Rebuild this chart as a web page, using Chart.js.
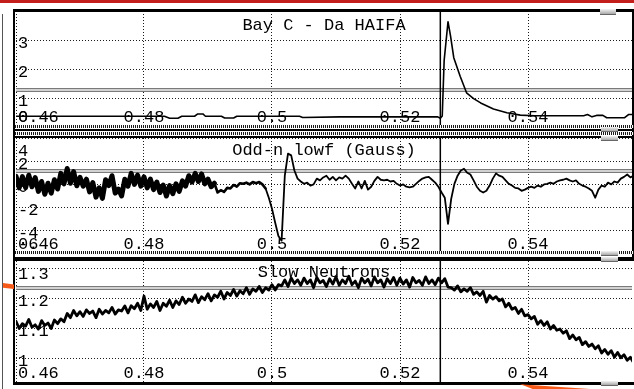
<!DOCTYPE html>
<html>
<head>
<meta charset="utf-8">
<script src="https://cdn.jsdelivr.net/npm/chart.js@4.4.1/dist/chart.umd.min.js"></script>
<style>
  html, body { margin: 0; padding: 0; background: #fff; }
  #scope { position: relative; width: 634px; height: 389px; overflow: hidden; background: #fff; }
  #scope canvas { position: absolute; left: 16px; }
  .d { position: absolute; }
  .blk { background: #000; }
  .hatch { background: repeating-linear-gradient(90deg, #1a1a1a 0 1px, #fff 1px 2px); }
  .tab { background: linear-gradient(#f4f4f4, #a8a8a8); border-bottom: 1px solid #666; box-sizing: border-box; }
  .orange { background: #f75a18; }
</style>
</head>
<body>
<div id="scope">
  <canvas id="haifa" width="616" height="116" style="top:11px"></canvas>
  <canvas id="lowf" width="616" height="116" style="top:138px"></canvas>
  <canvas id="neutron" width="616" height="122" style="top:261px"></canvas>

  <!-- window frame: title strip, panel borders, axis hatching, scroll tabs -->
  <div class="d" style="left:0;top:0;width:634px;height:3px;background:#c41e1a"></div>
  <div class="d" style="left:2px;top:14px;width:1px;height:375px;background:#555"></div>
  <div class="d blk" style="left:13px;top:9px;width:2px;height:376px"></div>
  <div class="d blk" style="left:632px;top:9px;width:2px;height:251px"></div>
  <div class="d blk" style="left:13px;top:9px;width:621px;height:3px"></div>
  <div class="d hatch" style="left:15px;top:125px;width:619px;height:3px"></div>
  <div class="d blk" style="left:13px;top:129px;width:621px;height:2px"></div>
  <div class="d hatch" style="left:15px;top:132px;width:619px;height:3px"></div>
  <div class="d blk" style="left:13px;top:136px;width:621px;height:2px"></div>
  <div class="d hatch" style="left:15px;top:251px;width:619px;height:3px"></div>
  <div class="d blk" style="left:13px;top:257px;width:621px;height:4px"></div>
  <div class="d blk" style="left:13px;top:382px;width:621px;height:3px"></div>
  <div class="d tab" style="left:600px;top:9px;width:16px;height:6px"></div>
  <div class="d tab" style="left:601px;top:127px;width:17px;height:5px"></div>
  <div class="d tab" style="left:601px;top:136px;width:17px;height:5px"></div>
  <div class="d tab" style="left:601px;top:251px;width:17px;height:5px"></div>
  <div class="d tab" style="left:601px;top:257px;width:17px;height:5px"></div>
  <div class="d tab" style="left:601px;top:381px;width:17px;height:5px"></div>
  <div class="d orange" style="left:3px;top:283px;width:11px;height:6px;clip-path:polygon(0 0,100% 25%,100% 100%,0 80%)"></div>
  <div class="d orange" style="left:520px;top:383px;width:70px;height:6px;clip-path:polygon(0 20%,100% 100%,18% 100%)"></div>
</div>

<script>
const sampleStart = 0.46;
const sampleStep = 0.0005;

const xTickValues = [0.46, 0.48, 0.5, 0.52, 0.54];
const xTickLabels = ['0.46', '0.48', '0.5', '0.52', '0.54'];
const cursorTime = 0.5263;

// Panel 1: D-alpha, HAIFA
const haifaTitle = 'Bay C - Da HAIFA';
const haifaTime = [0.46, 0.4731, 0.4832, 0.4840, 0.4853, 0.4859, 0.4879, 0.4884, 0.4892, 0.4896,
                   0.4921, 0.4926, 0.4940, 0.4945, 0.5043, 0.5048, 0.5106, 0.5259, 0.5263, 0.5266,
                   0.5269, 0.5275, 0.5279, 0.5284, 0.5294, 0.5304, 0.5315, 0.5326, 0.5346, 0.5367,
                   0.5388, 0.5410, 0.5487, 0.5493, 0.5500, 0.5507, 0.5517, 0.5523, 0.5551, 0.5557,
                   0.5563];
const haifaValue = [0.37, 0.37, 0.37, 0.30, 0.30, 0.37, 0.37, 0.45, 0.45, 0.37,
                    0.37, 0.31, 0.31, 0.37, 0.37, 0.33, 0.35, 0.35, 0.30, 0.38,
                    2.30, 3.63, 3.13, 2.39, 1.75, 1.18, 0.98, 0.83, 0.62, 0.49,
                    0.41, 0.39, 0.39, 0.43, 0.35, 0.40, 0.40, 0.32, 0.32, 0.43,
                    0.43];
const haifaTicks = [3, 2, 1, 0];
const haifaTickLabels = ['3', '2', '1', '0'];
const haifaLevel = 1.26;

// Panel 2: odd-n low-frequency field (Gauss)
const lowfTitle = 'Odd-n lowf (Gauss)';
const lowfValue = [
  0.7, -0.3, 0.67, -0.27, 0.79, -0.2, 0.58, -0.6, 0.25, -0.85,
  0.1, -0.75, 0.4, -0.4, 0.95, 0.05, 1.37, 0.1, 1.1, -0.12,
  0.6, -0.15, 0.45, -0.65, 0.15, -1.1, -0.3, -1.2, 0.4, -0.1,
  0.75, -0.75, -0.4, -1.0, 0.45, -0.15, 0.95, 0.0, 0.8, -0.15,
  0.65, -0.3, 0.45, -0.45, 0.2, -0.7, -0.05, -1.0, -0.1, -0.8,
  0.05, -0.6, 0.3, -0.15, 0.75, 0.2, 0.95, 0.25, 0.9, 0.05,
  0.45, -0.2, 0.1, -0.7, -0.5, -0.65, -0.3, -0.35, -0.05, -0.2,
  0.1, 0.05, 0.15, 0.0, 0.2, 0.1, 0.2, 0.0, -0.35, -1.15,
  -2.1, -3.3, -4.45, -4.85, 0.75, 2.65, 2.5, 1.2, 0.5, 0.25,
  0.05, 0.15, -0.1, 0.0, 0.5, 0.35, 0.6, 0.75, 0.4, 0.65,
  0.35, 0.6, 0.5, 0.75, 0.5, 0.05, -0.35, 0.25, -0.35, 0.3,
  -0.45, -0.2, 0.3, 0.65, 0.4, 0.35, 0.4, 0.25, 0.3, 0.05,
  -0.1, 0.0, -0.2, -0.25, -0.2, 0.05, 0.3, 0.5, 0.6, 0.65,
  0.4, 0.15, -0.2, -0.7, -1.15, -3.4, -1.25, 0.05, 0.75, 1.2,
  1.35, 1.0, 0.85, 0.35, -0.2, -0.55, -0.7, -0.55, -0.1, 0.5,
  0.95, 0.75, 0.65, 0.35, 0.05, -0.1, -0.3, -0.35, -0.55, -0.45,
  -0.3, -0.2, -0.3, -0.1, -0.2, 0.0, 0.05, 0.15, 0.05, 0.25,
  0.35, 0.4, 0.5, 0.35, 0.25, 0.35, 0.05, -0.1, -0.2, -0.35,
  -0.55, -1.15, -0.45, -0.1, -0.2, 0.15, 0.0, 0.25, 0.15, 0.5,
  0.65, 0.85, 0.6, 0.75
];
const lowfTicks = [4, 2, 0, -2, -4, -6];
const lowfTickLabels = ['4', '2', '0', '-2', '-4', '-6'];
const lowfLevel = 1.13;

// Panel 3: slow neutron rate
const neutronTitle = 'Slow Neutrons';
const neutronValue = [
  1.124, 1.100, 1.116, 1.108, 1.130, 1.104, 1.112, 1.098, 1.126, 1.110,
  1.118, 1.100, 1.128, 1.116, 1.132, 1.122, 1.150, 1.136, 1.160, 1.142,
  1.156, 1.140, 1.162, 1.150, 1.158, 1.136, 1.164, 1.148, 1.160, 1.152,
  1.170, 1.148, 1.162, 1.158, 1.175, 1.152, 1.176, 1.166, 1.184, 1.160,
  1.208, 1.164, 1.182, 1.170, 1.190, 1.160, 1.184, 1.174, 1.194, 1.170,
  1.192, 1.180, 1.204, 1.184, 1.198, 1.190, 1.212, 1.186, 1.206, 1.196,
  1.216, 1.192, 1.212, 1.204, 1.224, 1.198, 1.220, 1.210, 1.230, 1.208,
  1.226, 1.216, 1.236, 1.214, 1.232, 1.224, 1.240, 1.220, 1.236, 1.228,
  1.246, 1.228, 1.246, 1.242, 1.262, 1.240, 1.268, 1.250, 1.262, 1.244,
  1.268, 1.250, 1.262, 1.236, 1.270, 1.252, 1.260, 1.240, 1.266, 1.248,
  1.272, 1.244, 1.262, 1.250, 1.274, 1.246, 1.258, 1.236, 1.268, 1.252,
  1.264, 1.242, 1.272, 1.252, 1.262, 1.238, 1.266, 1.250, 1.270, 1.244,
  1.268, 1.248, 1.262, 1.238, 1.270, 1.252, 1.260, 1.244, 1.272, 1.250,
  1.262, 1.246, 1.268, 1.252, 1.266, 1.238, 1.236, 1.228, 1.242, 1.222,
  1.232, 1.224, 1.236, 1.214, 1.222, 1.210, 1.224, 1.188, 1.210, 1.198,
  1.206, 1.192, 1.198, 1.172, 1.184, 1.164, 1.170, 1.150, 1.164, 1.142,
  1.146, 1.132, 1.140, 1.114, 1.126, 1.110, 1.122, 1.098, 1.110, 1.094,
  1.098, 1.084, 1.092, 1.066, 1.078, 1.062, 1.070, 1.046, 1.056, 1.040,
  1.048, 1.032, 1.042, 1.018, 1.030, 1.014, 1.026, 1.004, 1.020, 1.002,
  1.012, 0.994, 1.004, 0.986
];
const neutronTicks = [1.3, 1.2, 1.1, 1];
const neutronTickLabels = ['1.3', '1.2', '1.1', '1'];
const neutronLevel = 1.236;

const sampleTimes = n => Array.from({ length: n }, (_, i) => sampleStart + i * sampleStep);
const toPoints = (times, values) => values.map((v, i) => ({ x: times[i], y: v }));

const FONT = '17px "Liberation Mono", "DejaVu Sans Mono", monospace';

// Reference level band, cursor, titles and in-frame tick labels
const scopeDecor = {
  id: 'scopeDecor',
  beforeDatasetsDraw(chart, args, o) {
    const { ctx, chartArea: a, scales: { x, y } } = chart;
    ctx.save();

    const ly = Math.round(y.getPixelForValue(o.level));
    ctx.fillStyle = '#d2d2d2';
    ctx.fillRect(a.left, ly - 2, a.right - a.left, 4);
    ctx.fillStyle = '#7a7a7a';
    ctx.fillRect(a.left, ly - 2, a.right - a.left, 1);
    ctx.fillRect(a.left, ly + 1, a.right - a.left, 1);

    const cx = x.getPixelForValue(o.cursor);
    ctx.strokeStyle = '#000';
    ctx.lineWidth = 1.5;
    ctx.beginPath();
    ctx.moveTo(cx, a.top);
    ctx.lineTo(cx, a.bottom);
    ctx.stroke();

    ctx.font = FONT;
    ctx.fillStyle = '#000';
    ctx.textBaseline = 'middle';

    ctx.textAlign = 'center';
    ctx.fillText(o.title, (a.left + a.right) / 2, a.top + o.titleDy);

    ctx.textAlign = 'left';
    o.yTicks.forEach((v, i) => {
      let py = y.getPixelForValue(v) + 3;
      py = Math.min(Math.max(py, a.top + 13), a.bottom - 10);
      ctx.fillText(o.yLabels[i], a.left + 2, py);
    });

    xTickValues.forEach((v, i) => {
      const px = x.getPixelForValue(v);
      if (i === 0) { ctx.textAlign = 'left'; ctx.fillText(xTickLabels[i], a.left + 2, a.bottom - 10); }
      else { ctx.textAlign = 'center'; ctx.fillText(xTickLabels[i], px, a.bottom - 10); }
    });
    ctx.restore();
  }
};

function scopeChart(id, points, yMin, yMax, yTicks, decor, lineWidth, segWidth) {
  const dataset = {
    data: points,
    borderColor: '#000',
    borderWidth: lineWidth,
    borderJoinStyle: 'round',
    borderCapStyle: 'round',
    pointRadius: 0,
    tension: 0,
    fill: false
  };
  if (segWidth) dataset.segment = { borderWidth: segWidth };
  return new Chart(document.getElementById(id), {
    type: 'line',
    data: { datasets: [dataset] },
    plugins: [scopeDecor],
    options: {
      responsive: false,
      animation: false,
      devicePixelRatio: 1,
      layout: { padding: 0 },
      events: [],
      plugins: { legend: { display: false }, tooltip: { enabled: false }, scopeDecor: decor },
      scales: {
        x: {
          type: 'linear', min: 0.46, max: 0.55625,
          afterBuildTicks: s => { s.ticks = xTickValues.map(v => ({ value: v })); },
          ticks: { display: false },
          grid: { color: '#1a1a1a', lineWidth: 1, drawTicks: false },
          border: { display: false, dash: [1, 2] }
        },
        y: {
          type: 'linear', min: yMin, max: yMax,
          afterBuildTicks: s => { s.ticks = yTicks.map(v => ({ value: v })); },
          ticks: { display: false },
          grid: { color: '#1a1a1a', lineWidth: 1, drawTicks: false },
          border: { display: false, dash: [1, 2] }
        }
      }
    }
  });
}

scopeChart('haifa', toPoints(haifaTime, haifaValue), 0, 4, haifaTicks,
  { title: haifaTitle, titleDy: 14, level: haifaLevel, cursor: cursorTime, yTicks: haifaTicks, yLabels: haifaTickLabels },
  1.6);

scopeChart('lowf', toPoints(sampleTimes(lowfValue.length), lowfValue), -6, 4, lowfTicks,
  { title: lowfTitle, titleDy: 12, level: lowfLevel, cursor: cursorTime, yTicks: lowfTicks, yLabels: lowfTickLabels },
  1.8, ctx => (ctx.p0DataIndex < 62 ? 5 : ctx.p0DataIndex < 78 ? 2.6 : 1.8));

scopeChart('neutron', toPoints(sampleTimes(neutronValue.length), neutronValue), 0.918, 1.325, neutronTicks,
  { title: neutronTitle, titleDy: 11, level: neutronLevel, cursor: cursorTime, yTicks: neutronTicks, yLabels: neutronTickLabels },
  2.8);
</script>
</body>
</html>
